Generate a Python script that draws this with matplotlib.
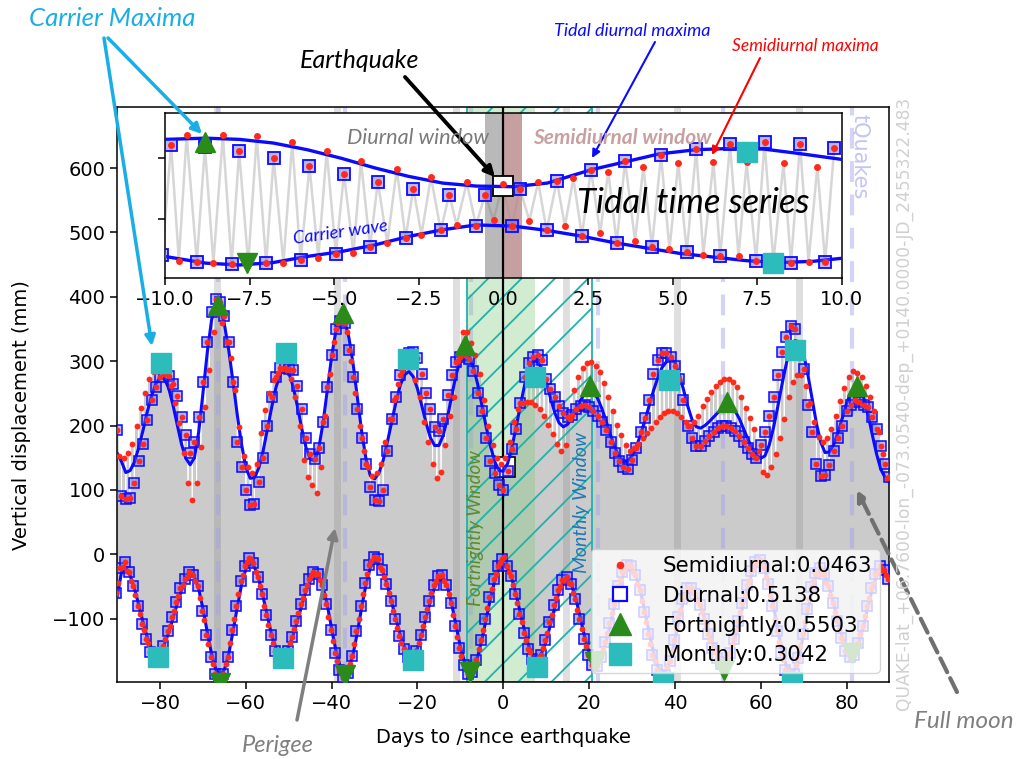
import numpy as np
import matplotlib.pyplot as plt
from matplotlib.lines import Line2D

W, H = 1023, 759
plt.rcParams['font.family'] = 'DejaVu Sans'
plt.rcParams['font.size'] = 14
plt.rcParams['hatch.linewidth'] = 1.3

# ---------------------------------------------------------------
# Daily tidal extremes, day -90 .. 90 around the event
# ---------------------------------------------------------------
upper_carrier = [
    157, 144, 127, 130, 143, 165, 192, 221, 246, 265,
    275, 273, 258, 232, 201, 171, 149, 139, 150, 190,
    251, 314, 364, 387, 382, 357, 317, 268, 216, 170,
    135, 118, 119, 134, 160, 194, 228, 259, 280, 289,
    282, 261, 230, 196, 166, 148, 145, 165, 205, 257,
    308, 348, 368, 363, 337, 295, 243, 190, 148, 122,
    117, 126, 146, 175, 206, 237, 263, 279, 284, 276,
    257, 231, 204, 181, 169, 169, 185, 213, 247, 279,
    303, 313, 308, 291, 265, 232, 198, 168, 144, 130,
    129, 141, 166, 198, 232, 264, 289, 301, 300, 288,
    267, 243, 220, 204, 198, 202, 211, 225, 239, 250,
    255, 252, 242, 226, 206, 185, 166, 152, 145, 145,
    153, 167, 186, 208, 231, 254, 274, 290, 299, 305,
    298, 280, 256, 230, 209, 198, 196, 200, 206, 213,
    220, 226, 230, 229, 223, 211, 195, 179, 164, 154,
    149, 153, 170, 197, 230, 265, 297, 320, 332, 330,
    311, 279, 241, 203, 174, 158, 159, 170, 189, 211,
    234, 251, 260, 258, 243, 218, 186, 156, 132, 119,
    112]

upper_diurnal = [
    193, 90, 86, 88, 110, 145, 172, 209, 240, 260,
    276, 280, 277, 264, 246, 214, 185, 158, 175, 214,
    268, 330, 377, 397, 392, 370, 330, 268, 175, 135,
    100, 76, 78, 113, 150, 200, 245, 275, 289, 290,
    288, 286, 262, 225, 180, 155, 148, 165, 205, 260,
    310, 350, 363, 359, 318, 275, 225, 180, 140, 105,
    84, 82, 100, 160, 210, 245, 278, 298, 313, 314,
    305, 280, 250, 225, 198, 192, 210, 248, 278, 298,
    307, 310, 304, 285, 250, 222, 180, 145, 127, 108,
    100, 130, 163, 195, 235, 275, 297, 307, 310, 302,
    272, 257, 245, 230, 220, 214, 216, 225, 231, 232,
    229, 222, 215, 206, 193, 175, 157, 145, 136, 133,
    146, 165, 190, 211, 240, 280, 302, 312, 313, 307,
    292, 272, 240, 200, 180, 168, 168, 176, 184, 190,
    196, 200, 200, 196, 191, 184, 175, 165, 155, 150,
    170, 190, 215, 245, 279, 315, 338, 354, 350, 320,
    288, 232, 190, 140, 122, 123, 138, 160, 180, 200,
    222, 232, 240, 236, 232, 229, 213, 195, 168, 140,
    120]

# half a day after each diurnal maximum
upper_semidiurnal = [
    152, 150, 158, 172, 200, 228, 250, 272, 283, 286,
    285, 280, 262, 235, 204, 157, 111, 84, 111, 167,
    229, 287, 345, 375, 360, 330, 305, 255, 198, 152,
    135, 126, 141, 188, 224, 250, 270, 282, 288, 286,
    272, 245, 200, 147, 120, 108, 95, 136, 215, 280,
    330, 360, 372, 345, 300, 250, 200, 160, 135, 122,
    126, 140, 175, 210, 240, 265, 285, 295, 292, 270,
    245, 205, 175, 141, 118, 128, 170, 215, 245, 300,
    346, 346, 328, 310, 280, 240, 200, 170, 150, 141,
    150, 175, 205, 225, 235, 237, 236, 232, 225, 215,
    201, 187, 172, 160, 170, 210, 255, 275, 289, 297,
    298, 292, 283, 266, 245, 222, 201, 185, 170, 160,
    165, 172, 180, 188, 196, 205, 213, 219, 222, 222,
    219, 213, 205, 200, 205, 215, 230, 242, 252, 262,
    268, 273, 272, 268, 260, 245, 228, 212, 195, 160,
    128, 123, 135, 155, 180, 210, 245, 268, 279, 278,
    262, 235, 205, 182, 175, 180, 195, 215, 238, 258,
    275, 284, 282, 275, 262, 245, 222, 190, 155, 118]

lower_carrier = [
    -66, -28, -21, -33, -53, -78, -105, -129, -146, -154,
    -151, -140, -122, -100, -77, -56, -41, -33, -35, -54,
    -85, -121, -155, -179, -188, -179, -155, -120, -82, -47,
    -23, -14, -20, -39, -66, -96, -125, -146, -156, -155,
    -144, -126, -104, -80, -58, -42, -33, -34, -51, -80,
    -116, -150, -175, -185, -178, -155, -121, -82, -47, -21,
    -11, -15, -28, -49, -75, -101, -126, -145, -155, -156,
    -146, -125, -99, -73, -51, -38, -37, -51, -78, -111,
    -144, -168, -180, -176, -160, -133, -101, -69, -41, -23,
    -16, -22, -38, -63, -92, -120, -144, -158, -162, -153,
    -135, -109, -82, -59, -44, -40, -50, -71, -100, -129,
    -153, -166, -167, -156, -135, -108, -79, -53, -32, -21,
    -22, -35, -58, -89, -122, -152, -174, -184, -181, -162,
    -133, -100, -73, -57, -56, -65, -80, -101, -123, -142,
    -157, -164, -162, -150, -130, -104, -77, -51, -30, -17,
    -14, -25, -49, -81, -118, -150, -174, -185, -179, -158,
    -124, -87, -54, -33, -27, -35, -53, -77, -104, -128,
    -146, -154, -150, -135, -111, -82, -55, -34, -23, -28,
    -40]

# a quarter day before each day
lower_diurnal = [
    -60, -22, -12, -28, -50, -80, -108, -131, -152, -160,
    -158, -143, -120, -97, -74, -52, -38, -28, -33, -50,
    -88, -125, -160, -186, -196, -186, -160, -118, -80, -42,
    -18, -6, -14, -36, -62, -95, -126, -150, -162, -163,
    -150, -128, -104, -78, -55, -38, -28, -30, -48, -78,
    -118, -154, -180, -192, -184, -158, -120, -80, -44, -16,
    -4, -8, -24, -46, -73, -100, -127, -148, -160, -162,
    -150, -126, -98, -72, -48, -34, -32, -48, -76, -112,
    -146, -172, -186, -183, -164, -134, -100, -66, -38, -18,
    -8, -18, -34, -62, -93, -122, -147, -163, -168, -156,
    -134, -106, -79, -56, -40, -36, -47, -70, -101, -131,
    -157, -172, -174, -160, -136, -107, -77, -50, -28, -16,
    -18, -32, -56, -90, -124, -156, -180, -192, -188, -166,
    -134, -98, -70, -52, -52, -62, -79, -101, -124, -145,
    -161, -170, -168, -154, -131, -103, -75, -48, -26, -12,
    -9, -21, -46, -80, -119, -153, -180, -193, -186, -162,
    -124, -85, -51, -29, -22, -31, -50, -76, -104, -130,
    -150, -160, -156, -138, -111, -80, -52, -30, -18, -24,
    -38]

# a quarter day after each day
lower_semidiurnal = [
    -45, -20, -26, -42, -64, -93, -118, -138, -150, -158,
    -152, -132, -111, -88, -65, -48, -36, -30, -42, -68,
    -102, -140, -170, -190, -195, -170, -138, -100, -62, -32,
    -12, -8, -27, -50, -80, -110, -138, -155, -165, -158,
    -138, -116, -92, -68, -48, -34, -30, -40, -64, -98,
    -135, -166, -185, -190, -170, -140, -100, -62, -30, -10,
    -6, -20, -36, -60, -88, -114, -138, -152, -160, -155,
    -138, -112, -85, -60, -42, -34, -42, -62, -94, -128,
    -158, -178, -186, -172, -148, -118, -84, -54, -30, -14,
    -4, -28, -48, -76, -106, -133, -152, -166, -160, -146,
    -122, -94, -68, -50, -40, -44, -60, -86, -116, -142,
    -162, -170, -166, -148, -122, -92, -64, -40, -24, -16,
    -28, -46, -72, -106, -140, -166, -184, -190, -176, -150,
    -116, -86, -64, -54, -60, -72, -90, -112, -134, -152,
    -163, -168, -158, -141, -118, -90, -63, -40, -22, -14,
    -18, -36, -64, -100, -136, -164, -182, -190, -172, -142,
    -106, -70, -42, -30, -30, -44, -64, -90, -116, -138,
    -151, -158, -144, -124, -96, -68, -44, -28, -24, -32]

fort_up_day = [-66.4, -37.3, -8.9, 20.2, 52.2, 82.4]
fort_up_val = [388, 375, 325, 261, 237, 261]
fort_lo_day = [-66.0, -36.9, -7.8, 21.3, 51.5, 81.2]
fort_lo_val = [-200, -188, -183, -167, -180, -154]
month_up_day = [-79.7, -50.7, -22.1, 7.4, 38.7, 68.1]
month_up_val = [297, 313, 304, 275, 270, 318]
month_lo_day = [-80.6, -51.3, -21.1, 7.9, 37.3, 67.2]
month_lo_val = [-160, -162, -165, -175, -198, -198]

perigee_days = [-66.8, -38.8, -11.1, 14.6, 40.6, 69.0]
full_moon_days = [-66.4, -36.9, -7.5, 22.1, 51.2, 81.2]
quake_mark = (0.4, 136)

fortnight_win = (-8.55, 7.4)
month_win = (-8.55, 20.6)

legend_labels = ['Semidiurnal:0.0463', 'Diurnal:0.5138',
                 'Fortnightly:0.5503', 'Monthly:0.3042']

# ---------------------------------------------------------------
# Inset: +/- 10 days
# ---------------------------------------------------------------
ins_top_d_day = [-9.82, -8.82, -7.81, -6.79, -5.73, -4.71, -3.71, -2.66, -1.60, -0.54,
                 0.49, 1.58, 2.59, 3.60, 4.66, 5.70, 6.70, 7.72, 8.77, 9.78]
ins_top_d_val = [622, 619, 612, 600, 587, 574, 561, 550, 540, 540,
                 550, 563, 581, 595, 605, 615, 623, 626, 623, 617]
ins_top_s_day = [-9.36, -8.29, -7.29, -6.24, -5.22, -4.21, -3.15, -2.14, -1.08, -0.02,
                 1.03, 2.07, 3.10, 4.14, 5.17, 6.21, 7.19, 8.28, 9.28]
ins_top_s_val = [638, 638, 636, 626, 612, 596, 582, 569, 560, 557,
                 561, 567, 578, 586, 592, 594, 593, 592, 586]
ins_bot_d_day = [-10.08, -9.06, -8.03, -7.01, -5.99, -4.95, -3.94, -2.89, -1.85, -0.81,
                 0.25, 1.28, 2.32, 3.35, 4.39, 5.42, 6.41, 7.47, 8.50, 9.51]
ins_bot_d_val = [441, 429, 425, 427, 432, 442, 454, 468, 481, 489,
                 488, 481, 472, 461, 453, 445, 438, 431, 427, 429]
ins_bot_s_day = [-9.59, -8.57, -7.54, -6.50, -5.47, -4.43, -3.43, -2.42, -1.38, -0.29,
                 0.77, 1.82, 2.86, 3.89, 4.91, 5.91, 6.95, 7.98, 9.02]
ins_bot_s_val = [431, 427, 426, 427, 435, 443, 460, 474, 490, 498,
                 497, 488, 476, 464, 450, 441, 438, 430, 429]
ins_top_c_day = [-10, -8.8, -7.8, -6.8, -5.8, -4.8, -3.8, -2.8, -1.8, -0.8,
                 0.3, 1.3, 2.6, 3.6, 4.6, 5.7, 6.7, 7.7, 8.7, 10]
ins_top_c_val = [631, 633, 631, 625, 614, 600, 584, 570, 559, 554,
                 553, 559, 581, 594, 607, 614, 616, 615, 608, 598]
ins_bot_c_day = [-10, -8.8, -7.8, -6.8, -5.8, -4.8, -3.8, -2.8, -1.8, -0.8,
                 0.3, 1.28, 2.26, 3.25, 4.23, 5.22, 6.21, 7.19, 8.18, 9.16, 10]
ins_bot_c_val = [438, 427, 424, 428, 438, 446, 457, 471, 482, 490,
                 488, 481, 472, 461, 452, 443, 437, 431, 428, 430, 435]
ins_fort_day = [-8.82, -7.59]
ins_fort_val = [627, 428]
ins_month_day = [7.19, 7.96]
ins_month_val = [611, 428]
ins_quake = (0.0, 554)

# ---------------------------------------------------------------
days = np.arange(-90, 91)
assert len(upper_carrier) == len(upper_diurnal) == len(days)
assert len(lower_carrier) == len(lower_diurnal) == len(days)
assert len(upper_semidiurnal) == len(lower_semidiurnal) == len(days) - 1

up_d_t = days
up_s_t = days[:-1] + 0.5
lo_d_t = days - 0.25
lo_s_t = days[:-1] + 0.25

RED = '#ff2a1a'
BLUE = '#0a0aff'
GREEN = '#2a8a1a'
CYAN = '#2cbcbc'
GRAY_WAVE = '#cbcbcb'
SQ_FACE = (0.35, 0.35, 1.0, 0.42)

fig = plt.figure(figsize=(W / 100, H / 100), dpi=100)
fig.patch.set_facecolor('white')

ax = fig.add_axes([117.2 / W, 1 - 682.3 / H, 772.2 / W, 575.3 / H])

# semidiurnal oscillation drawn as one zig-zag through all extremes
t_all = np.concatenate([up_d_t, lo_s_t, up_s_t, lo_d_t])
v_all = np.concatenate([upper_diurnal, lower_semidiurnal, upper_semidiurnal, lower_diurnal])
order = np.argsort(t_all)
ax.plot(t_all[order], v_all[order], color=GRAY_WAVE, lw=1.6, zorder=1)

for d in perigee_days:
    ax.axvline(d, color='gray', alpha=0.25, lw=5, zorder=1.5)
for d in full_moon_days:
    ax.axvline(d, color='#a0a0ee', alpha=0.45, lw=3, dashes=(5, 3), zorder=1.5)

ax.axvspan(*fortnight_win, color='#7fc97f', alpha=0.35, lw=0, zorder=1.6)
ax.axvspan(*month_win, facecolor='none', edgecolor='#20b2aa', hatch='/', lw=1.3, zorder=1.7)
ax.axvline(0, color='black', lw=1.6, zorder=2)
ax.plot(*quake_mark, 's', ms=14, mfc='white', mec='black', mew=1.2, zorder=2.5)

ax.plot(days, upper_carrier, color=BLUE, lw=2.2, zorder=3)
ax.plot(days, lower_carrier, color=BLUE, lw=2.2, zorder=3)
for t, v in [(up_d_t, upper_diurnal), (lo_d_t, lower_diurnal)]:
    ax.plot(t, v, ls='', marker='s', ms=7, mfc=SQ_FACE, mec=BLUE, mew=1.1, zorder=3.5)
for t, v in [(up_d_t, upper_diurnal), (up_s_t, upper_semidiurnal),
             (lo_d_t, lower_diurnal), (lo_s_t, lower_semidiurnal)]:
    ax.plot(t, v, ls='', marker='o', ms=4.2, color=RED, mew=0, zorder=3.8)

ax.plot(fort_up_day, fort_up_val, ls='', marker='^', ms=14, color=GREEN, zorder=5)
ax.plot(fort_lo_day, fort_lo_val, ls='', marker='v', ms=14, color=GREEN, zorder=5)
ax.plot(month_up_day, month_up_val, ls='', marker='s', ms=15, color=CYAN, zorder=5)
ax.plot(month_lo_day, month_lo_val, ls='', marker='s', ms=15, color=CYAN, zorder=5)

ax.set_xlim(-90, 90)
ax.set_ylim(-199, 695)
ax.set_xticks(np.arange(-80, 81, 20))
ax.set_yticks(np.arange(-100, 601, 100))
ax.tick_params(labelsize=14, length=5, width=1.1)
for s in ax.spines.values():
    s.set_linewidth(1.1)
ax.set_xlabel('Days to /since earthquake', fontsize=14, labelpad=11)
ax.set_ylabel('Vertical displacement (mm)', fontsize=14)
ax.yaxis.set_label_coords(-0.112, 0.465)

handles = [
    Line2D([], [], ls='', marker='o', ms=5.5, color=RED, mew=0),
    Line2D([], [], ls='', marker='s', ms=10, mfc='white', mec=BLUE, mew=1.6),
    Line2D([], [], ls='', marker='^', ms=16, color=GREEN),
    Line2D([], [], ls='', marker='s', ms=16, color=CYAN),
]
leg = ax.legend(handles, legend_labels, loc='lower right', fontsize=15.4,
                framealpha=0.8, borderaxespad=0.45, labelspacing=0.45,
                handletextpad=1.0, borderpad=0.35, handlelength=2.0)
leg.set_zorder(10)

# ---------------------------------------------------------------
# Inset panel
# ---------------------------------------------------------------
ins = fig.add_axes([165 / W, 1 - 278.3 / H, 676.7 / W, 165 / H])
ins.set_facecolor('white')
ti = np.concatenate([ins_top_d_day, ins_bot_s_day, ins_top_s_day, ins_bot_d_day])
vi = np.concatenate([ins_top_d_val, ins_bot_s_val, ins_top_s_val, ins_bot_d_val])
o = np.argsort(ti)
ins.plot(ti[o], vi[o], color='#d6d6d6', lw=1.8, zorder=1)
ins.axvspan(-0.54, 0, color='gray', alpha=0.55, lw=0, zorder=1.5)
ins.axvspan(0, 0.54, color='#bc8f8f', alpha=0.85, lw=0, zorder=1.5)
ins.axvline(0, color='black', lw=1.6, zorder=2)
ins.plot(*ins_quake, 's', ms=15, mfc='white', mec='black', mew=1.3, zorder=2.5)
ins.plot(ins_top_c_day, ins_top_c_val, color=BLUE, lw=2.4, zorder=3)
ins.plot(ins_bot_c_day, ins_bot_c_val, color=BLUE, lw=2.4, zorder=3)
for t, v in [(ins_top_d_day, ins_top_d_val), (ins_bot_d_day, ins_bot_d_val)]:
    ins.plot(t, v, ls='', marker='s', ms=8, mfc=SQ_FACE, mec=BLUE, mew=1.3, zorder=3.5)
for t, v in [(ins_top_d_day, ins_top_d_val), (ins_bot_d_day, ins_bot_d_val),
             (ins_top_s_day, ins_top_s_val), (ins_bot_s_day, ins_bot_s_val)]:
    ins.plot(t, v, ls='', marker='o', ms=5, color=RED, mew=0, zorder=3.8)
ins.plot(ins_fort_day[:1], ins_fort_val[:1], ls='', marker='^', ms=14, color=GREEN, zorder=5)
ins.plot(ins_fort_day[1:], ins_fort_val[1:], ls='', marker='v', ms=14, color=GREEN, zorder=5)
ins.plot(ins_month_day, ins_month_val, ls='', marker='s', ms=15, color=CYAN, zorder=5)
ins.set_xlim(-10, 10)
ins.set_ylim(402, 674)
ins.set_xticks(np.arange(-10, 10.1, 2.5))
ins.set_yticks([500, 600])
ins.set_yticklabels([])
ins.tick_params(labelsize=14, length=5, width=1.1)
for s in ins.spines.values():
    s.set_linewidth(1.1)

# ---------------------------------------------------------------
# Annotation layer in figure pixels
# ---------------------------------------------------------------
ov = fig.add_axes([0, 0, 1, 1], zorder=20)
ov.set_xlim(0, W)
ov.set_ylim(H, 0)
ov.axis('off')
ov.patch.set_alpha(0)

it = dict(family='Lato', style='italic', ha='center', va='center')


def arrow(p0, p1, color, lw=2.0, ls='-', ms=15):
    ov.annotate('', xy=p1, xytext=p0,
                arrowprops=dict(arrowstyle='-|>', color=color, lw=lw, ls=ls,
                                mutation_scale=ms, shrinkA=0, shrinkB=0))


ov.text(112, 18, 'Carrier Maxima', color='#1aaee6', fontsize=18.5, **it)
arrow((104, 38), (152, 346), '#1aaee6', lw=2.5)
arrow((108, 38), (202, 134), '#1aaee6', lw=2.5)

ov.text(360, 60, 'Earthquake', color='black', fontsize=18, **it)
arrow((405, 77), (495, 177), 'black', lw=2.8)

ov.text(632, 31, 'Tidal diurnal maxima', color=BLUE, fontsize=13, **it)
arrow((655, 42), (592, 158), BLUE, lw=1.5, ms=12)
ov.text(805, 46, 'Semidiurnal maxima', color='red', fontsize=12.5, **it)
arrow((760, 58), (712, 155), 'red', lw=1.5, ms=12)

ov.text(418, 138, 'Diurnal window', color='#7a7a7a', fontsize=15.6, **it)
ov.text(622, 138, 'Semidiurnal window', color='#c8a0a0', fontsize=15,
        fontweight='bold', **it)
ov.text(341, 232, 'Carrier wave', color=BLUE, fontsize=13, rotation=8, **it)
ov.text(693, 203, 'Tidal time series', color='black', fontsize=25, **it)

ov.text(278, 745, 'Perigee', color='#7f7f7f', fontsize=17, **it)
arrow((297, 720), (335, 528), '#7f7f7f', lw=2.5)
ov.text(964, 722, 'Full moon', color='#7f7f7f', fontsize=17.5, **it)
arrow((957, 692), (857, 490), '#707070', lw=3, ls='--')

ov.text(476, 528, 'Fortnightly Window', color='#5d8a2d', fontsize=13.5, rotation=90, **it)
ov.text(582, 502, 'Monthly Window', color='#1f78b4', fontsize=14, rotation=90, **it)

ov.text(860, 157, 'tQuakes', color='#c4c4f2', fontsize=15, rotation=270,
        ha='center', va='center')
ov.text(904, 710, 'QUAKE-lat_+06.7600-lon_-073.0540-dep_+0140.0000-JD_2455322.483',
        color='#d0d0d0', fontsize=12.3, rotation=90, ha='center', va='bottom')

fig.savefig('out.png', dpi=100)
